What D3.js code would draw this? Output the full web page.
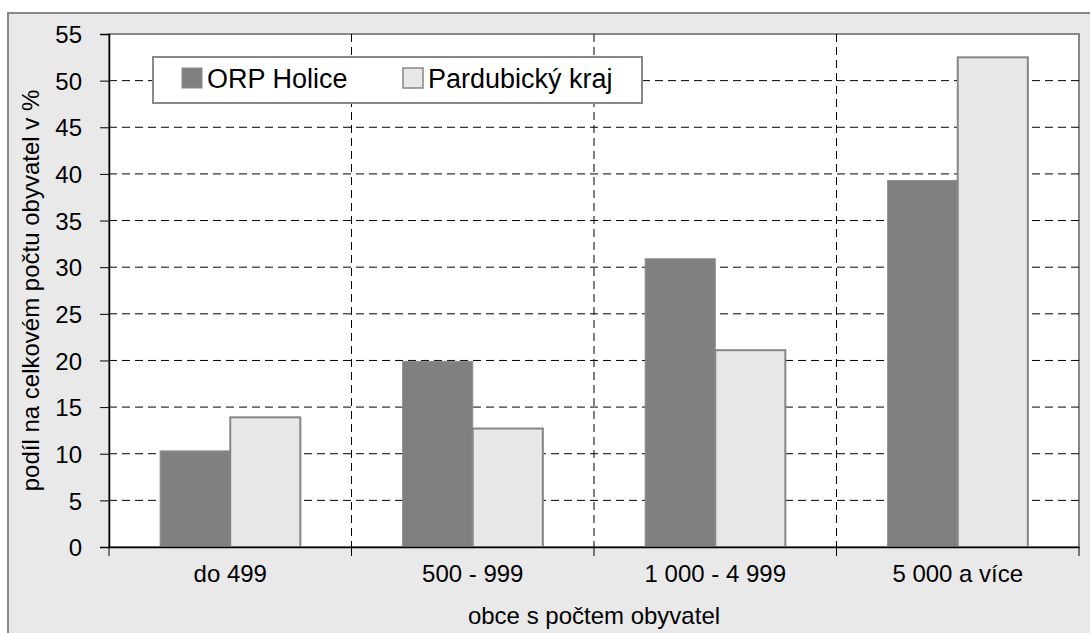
<!DOCTYPE html>
<html>
<head>
<meta charset="utf-8">
<script src="https://cdn.jsdelivr.net/npm/d3@7"></script>
<style>
  body { margin: 0; background: #fff; }
  svg text { font-family: "Liberation Sans", Arial, sans-serif; fill: #000; }
</style>
</head>
<body>
<script>
var categories = ['do 499', '500 - 999', '1 000 - 4 999', '5 000 a více'];
var seriesNames = ['ORP Holice', 'Pardubický kraj'];
var orpHolice = [10.3, 19.9, 30.9, 39.3];
var pardubickyKraj = [13.9, 12.7, 21.1, 52.5];
var yTicks = [0, 5, 10, 15, 20, 25, 30, 35, 40, 45, 50, 55];

var width = 1090, height = 633;
var plotLeft = 109, plotRight = 1079, plotTop = 34, plotBottom = 547;

var svg = d3.select('body').append('svg')
  .attr('width', width)
  .attr('height', height);

// outer chart area
svg.append('rect')
  .attr('x', 8).attr('y', 13)
  .attr('width', 1090).attr('height', 640)
  .attr('fill', '#e9e9e9')
  .attr('stroke', '#888').attr('stroke-width', 2);

svg.append('rect')
  .attr('x', plotLeft).attr('y', plotTop)
  .attr('width', plotRight - plotLeft).attr('height', plotBottom - plotTop)
  .attr('fill', '#fff')
  .attr('stroke', '#888').attr('stroke-width', 2);

var x = d3.scaleBand().domain(categories).range([plotLeft, plotRight]);
var xs = d3.scaleBand().domain(seriesNames).range([0, x.bandwidth()]).paddingOuter(0.73).paddingInner(0);
var y = d3.scaleLinear().domain([0, 55]).range([plotBottom, plotTop]);

// gridlines
svg.append('g').selectAll('line')
  .data(yTicks.slice(1, -1))
  .enter().append('line')
    .attr('x1', plotLeft).attr('x2', plotRight)
    .attr('y1', function(d) { return y(d); })
    .attr('y2', function(d) { return y(d); })
    .attr('stroke', '#000').attr('stroke-width', 1)
    .attr('stroke-dasharray', '8,5');

svg.append('g').selectAll('line')
  .data(categories.slice(1))
  .enter().append('line')
    .attr('x1', function(d) { return x(d); })
    .attr('x2', function(d) { return x(d); })
    .attr('y1', plotTop).attr('y2', plotBottom)
    .attr('stroke', '#000').attr('stroke-width', 1)
    .attr('stroke-dasharray', '8,5');

// bars
var groups = svg.append('g').selectAll('g')
  .data(categories)
  .enter().append('g')
    .attr('transform', function(d) { return 'translate(' + x(d) + ',0)'; });

groups.append('rect')
  .attr('x', xs(seriesNames[0]))
  .attr('y', function(d, i) { return y(orpHolice[i]); })
  .attr('width', xs.bandwidth())
  .attr('height', function(d, i) { return plotBottom - y(orpHolice[i]); })
  .attr('fill', '#808080')
  .attr('stroke', '#8c8c8c').attr('stroke-width', 1);

groups.append('rect')
  .attr('x', xs(seriesNames[1]))
  .attr('y', function(d, i) { return y(pardubickyKraj[i]); })
  .attr('width', xs.bandwidth())
  .attr('height', function(d, i) { return plotBottom - y(pardubickyKraj[i]); })
  .attr('fill', '#e8e8e8')
  .attr('stroke', '#868686').attr('stroke-width', 2);

// axes
var yAxis = svg.append('g')
  .attr('transform', 'translate(' + plotLeft + ',0)')
  .call(d3.axisLeft(y).tickValues(yTicks).tickSize(9).tickPadding(18));
yAxis.selectAll('text').style('font-size', '24px').attr('dy', '0.36em');

var xAxis = svg.append('g')
  .attr('transform', 'translate(0,' + plotBottom + ')')
  .call(d3.axisBottom(x).tickSize(0).tickPadding(18));
xAxis.selectAll('text').style('font-size', '24px');

svg.append('g').selectAll('line')
  .data(categories.concat(['end']))
  .enter().append('line')
    .attr('x1', function(d, i) { return plotLeft + i * x.step(); })
    .attr('x2', function(d, i) { return plotLeft + i * x.step(); })
    .attr('y1', plotBottom).attr('y2', plotBottom + 9)
    .attr('stroke', '#000');

svg.selectAll('.domain').attr('stroke', '#000').attr('stroke-width', 1.5);
svg.selectAll('.tick line').attr('stroke', '#000');

// axis titles
svg.append('text')
  .attr('transform', 'translate(39,' + ((plotTop + plotBottom) / 2) + ') rotate(-90)')
  .attr('text-anchor', 'middle')
  .style('font-size', '24px')
  .text('podíl na celkovém počtu obyvatel v %');

svg.append('text')
  .attr('x', (plotLeft + plotRight) / 2)
  .attr('y', 624)
  .attr('text-anchor', 'middle')
  .style('font-size', '24px')
  .text('obce s počtem obyvatel');

// legend
var legend = svg.append('g');
legend.append('rect')
  .attr('x', 153).attr('y', 57)
  .attr('width', 489).attr('height', 46)
  .attr('fill', '#fff')
  .attr('stroke', '#888').attr('stroke-width', 2);

var legendX = [182, 403];
var legendFill = ['#808080', '#e8e8e8'];
var legendItem = legend.selectAll('.item')
  .data(seriesNames)
  .enter().append('g')
    .attr('class', 'item')
    .attr('transform', function(d, i) { return 'translate(' + legendX[i] + ',68)'; });

legendItem.append('rect')
  .attr('width', 20).attr('height', 20)
  .attr('fill', function(d, i) { return legendFill[i]; })
  .attr('stroke', function(d, i) { return i ? '#868686' : '#8c8c8c'; })
  .attr('stroke-width', function(d, i) { return i ? 1.5 : 1; });

legendItem.append('text')
  .attr('x', 25).attr('y', 20)
  .style('font-size', '27px')
  .text(function(d) { return d; });
</script>
</body>
</html>
